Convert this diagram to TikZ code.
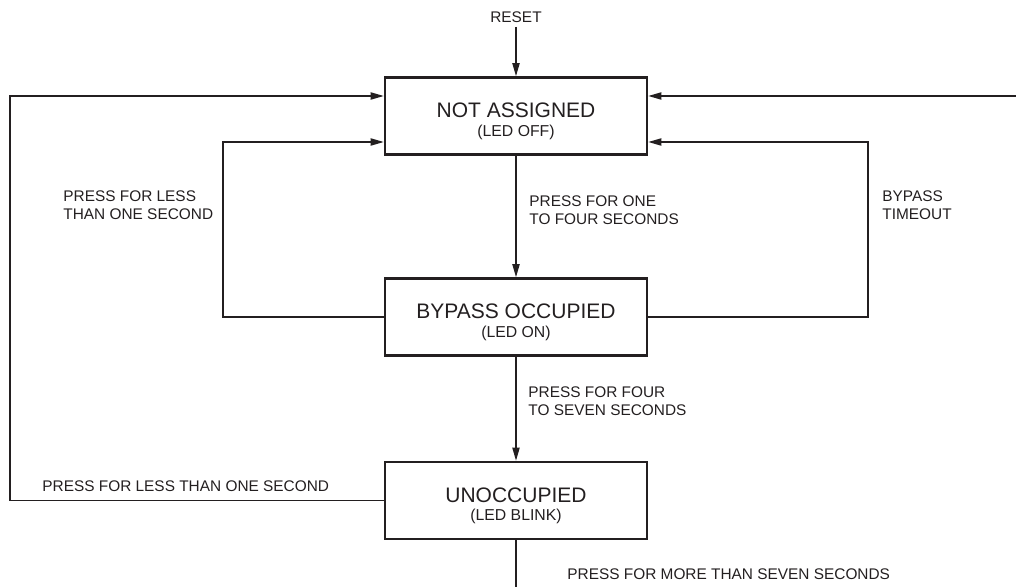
\documentclass[tikz,border=0pt]{standalone}
\usepackage{fontspec}
\setmainfont{Liberation Sans}
\usetikzlibrary{arrows.meta}
\definecolor{ink}{RGB}{35,31,32}
\tikzset{
  statebox/.style={draw=ink, line width=1.3pt, minimum width=131pt, minimum height=38.5pt, inner sep=0pt, align=center, text=ink},
  lbl/.style={inner sep=0pt, text=ink, align=left, font=\fontsize{7.7}{9}\selectfont},
  conn/.style={draw=ink, line width=0.65pt},
  arr/.style={conn, -{Triangle[length=6.5pt,width=3.6pt]}}
}
\newcommand{\ttl}[2]{{\fontsize{10.5}{11}\selectfont\rule{0pt}{12.6pt}#1}\\[-2.6pt]{\fontsize{7.9}{9}\selectfont #2}}
\begin{document}
\begin{tikzpicture}[x=0.5pt,y=-0.5pt]
\useasboundingbox (0,0) rectangle (1016,587);
% states
\node[statebox] (na) at (516,116) {\ttl{NOT ASSIGNED}{(LED OFF)}};
\node[statebox] (bo) at (516,317) {\ttl{BYPASS OCCUPIED}{(LED ON)}};
\node[statebox] (un) at (516,500.5) {\ttl{UNOCCUPIED}{(LED BLINK)}};
% reset
\node[lbl] (reset) at (516,17) {RESET};
\draw[arr, shorten <=2pt] (reset) -- (na);
% coordinates
\coordinate (lin) at (223,142);
\coordinate (rin) at (868,142);
\coordinate (lout) at (10,96);
\coordinate (rout) at (1016,96);
\coordinate (bend) at (516,587);
% connectors
\draw[arr] (na) -- (bo);
\draw[arr] (bo) -- (un);
\draw[conn] (un) -- (bend);
\draw[arr] (bo.west) -| (lin) -- (lin -| na.west);
\draw[arr] (bo.east) -| (rin) -- (rin -| na.east);
\draw[arr] (un.west) -| (lout) -- (lout -| na.west);
\draw[arr] (rout) -- (rout -| na.east);
% labels
\node[lbl, anchor=west] (l1) at (529,210) {PRESS FOR ONE\\TO FOUR SECONDS};
\node[lbl, anchor=west] (l2) at (528,401) {PRESS FOR FOUR\\TO SEVEN SECONDS};
\node[lbl, anchor=west] (l3) at (63,205.5) {PRESS FOR LESS\\THAN ONE SECOND};
\node[lbl, anchor=west] (l4) at (882,205) {BYPASS\\TIMEOUT};
\node[lbl, anchor=west] (l5) at (42,486) {PRESS FOR LESS THAN ONE SECOND};
\node[lbl, anchor=west] (l6) at (567,574) {PRESS FOR MORE THAN SEVEN SECONDS};
\end{tikzpicture}
\end{document}
